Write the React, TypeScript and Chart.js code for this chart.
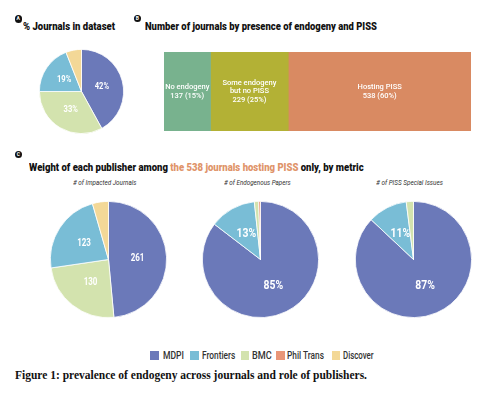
import React, { useEffect, useLayoutEffect, useRef, useState } from "react";
import { Chart, registerables } from "chart.js";

Chart.register(...registerables);

// ---------- data ----------
const PUBLISHERS = ["MDPI", "Frontiers", "BMC", "Phil Trans", "Discover"];
const PUBLISHER_COLORS = ["#6b79b9", "#79bdd6", "#d3e3ae", "#e99678", "#f3d897"];

// Panel A: % journals in dataset (ordered as drawn)
const A_LABELS = ["MDPI", "BMC", "Frontiers", "Discover"];
const A_VALUES = [42, 33, 19, 6];

// Panel B: number of journals by presence of endogeny and PISS
const B_CATEGORIES = [["No endogeny"], ["Some endogeny", "but no PISS"], ["Hosting PISS"]];
const B_VALUES = [137, 229, 538];
const B_COLORS = ["#78b28e", "#b3b135", "#d98a62"];

// Panel C: metrics among 538 journals hosting PISS
const C1_LABELS = ["MDPI", "BMC", "Frontiers", "Discover"];
const C1_VALUES = [261, 130, 123, 24];
const C2_LABELS = ["MDPI", "Frontiers", "BMC", "Phil Trans"];
const C2_VALUES = [85.4, 12.9, 1.2, 0.5];
const C3_LABELS = ["MDPI", "Frontiers", "BMC"];
const C3_VALUES = [87, 11, 2];

const colorOf = (name: string) => PUBLISHER_COLORS[PUBLISHERS.indexOf(name)];

// ---------- text helper ----------
function T(props: {
  x: number; y: number; w: number; size: number; weight?: number; italic?: boolean;
  color?: string; family?: string; children: React.ReactNode;
}) {
  const { x, y, w, size, weight = 400, italic = false, color = "#222", family = "Roboto, sans-serif", children } = props;
  const ref = useRef<HTMLSpanElement>(null);
  const [sx, setSx] = useState(1);
  useLayoutEffect(() => {
    const measure = () => {
      if (ref.current) {
        const nw = ref.current.getBoundingClientRect().width / (ref.current.dataset.sx ? parseFloat(ref.current.dataset.sx) : 1);
        if (nw > 0) {
          const s = w / nw;
          ref.current.dataset.sx = String(s);
          setSx(s);
        }
      }
    };
    measure();
    (document as any).fonts?.ready?.then(measure);
  }, [w]);
  return (
    <span
      ref={ref}
      style={{
        position: "absolute", left: x, top: y - 0.84 * size, fontSize: size, lineHeight: `${size}px`,
        fontFamily: family, fontWeight: weight, fontStyle: italic ? "italic" : "normal", color,
        whiteSpace: "nowrap", transform: `scaleX(${sx})`, transformOrigin: "left top",
      }}
    >
      {children}
    </span>
  );
}

function Badge({ cx, cy, letter }: { cx: number; cy: number; letter: string }) {
  return (
    <div style={{
      position: "absolute", left: cx - 3.8, top: cy - 3.8, width: 7.6, height: 7.6, borderRadius: "50%",
      background: "#111", color: "#fff", fontFamily: "Roboto, sans-serif", fontWeight: 700, fontSize: 5,
      lineHeight: "7.6px", textAlign: "center",
    }}>{letter}</div>
  );
}

// ---------- pie ----------
function Pie({ left, top, size, labels, values, fontSize, fmt }: {
  left: number; top: number; size: number; labels: string[]; values: number[]; fontSize: number;
  fmt: (v: number) => string;
}) {
  const ref = useRef<HTMLCanvasElement>(null);
  useEffect(() => {
    if (!ref.current) return;
    const total = values.reduce((a, b) => a + b, 0);
    const plugin = {
      id: "pieLabels",
      afterDatasetsDraw(chart: any) {
        const ctx = chart.ctx;
        const meta = chart.getDatasetMeta(0);
        meta.data.forEach((arc: any, i: number) => {
          if (values[i] / total < 0.1) return;
          const p = arc.tooltipPosition(false);
          ctx.save();
          ctx.translate(p.x, p.y);
          ctx.scale(0.8, 1);
          ctx.font = `bold ${fontSize}px Roboto, sans-serif`;
          ctx.fillStyle = "#ffffff";
          ctx.textAlign = "center";
          ctx.textBaseline = "middle";
          ctx.fillText(fmt(values[i]), 0, 0);
          ctx.restore();
        });
      },
    };
    const chart = new Chart(ref.current, {
      type: "pie",
      data: {
        labels,
        datasets: [{
          data: values,
          backgroundColor: labels.map(colorOf),
          borderColor: "#ffffff",
          borderWidth: 0.8,
        }],
      },
      options: {
        animation: false,
        responsive: false,
        events: [],
        layout: { padding: 0 },
        plugins: { legend: { display: false }, tooltip: { enabled: false }, title: { display: false } },
      },
      plugins: [plugin],
    });
    return () => chart.destroy();
  }, []);
  return (
    <canvas ref={ref} width={size} height={size}
      style={{ position: "absolute", left, top, width: size, height: size }} />
  );
}

// ---------- stacked bar ----------
function Bar({ left, top, width, height }: { left: number; top: number; width: number; height: number }) {
  const ref = useRef<HTMLCanvasElement>(null);
  useEffect(() => {
    if (!ref.current) return;
    const total = B_VALUES.reduce((a, b) => a + b, 0);
    const plugin = {
      id: "barLabels",
      afterDatasetsDraw(chart: any) {
        const ctx = chart.ctx;
        B_VALUES.forEach((v, i) => {
          const bar: any = chart.getDatasetMeta(i).data[0];
          const cx = (bar.x + bar.base) / 2;
          const cy = bar.y;
          const lines = [...B_CATEGORIES[i], `${v} (${Math.round((v / total) * 100)}%)`];
          const lh = 8.3;
          ctx.save();
          ctx.font = `500 7.5px Roboto, sans-serif`;
          ctx.fillStyle = "#ffffff";
          ctx.textAlign = "center";
          ctx.textBaseline = "middle";
          lines.forEach((t, k) => {
            ctx.fillText(t, cx, cy + (k - (lines.length - 1) / 2) * lh);
          });
          ctx.restore();
        });
      },
    };
    const chart = new Chart(ref.current, {
      type: "bar",
      data: {
        labels: [""],
        datasets: B_VALUES.map((v, i) => ({
          label: B_CATEGORIES[i].join(" "),
          data: [v],
          backgroundColor: B_COLORS[i],
          borderWidth: 0,
          barPercentage: 1,
          categoryPercentage: 1,
        })),
      },
      options: {
        indexAxis: "y",
        animation: false,
        responsive: false,
        events: [],
        layout: { padding: 0 },
        scales: {
          x: { stacked: true, display: false, min: 0, max: total },
          y: { stacked: true, display: false },
        },
        plugins: { legend: { display: false }, tooltip: { enabled: false } },
      },
      plugins: [plugin],
    });
    return () => chart.destroy();
  }, []);
  return (
    <canvas ref={ref} width={width} height={height}
      style={{ position: "absolute", left, top, width, height }} />
  );
}

// ---------- layout constants ----------
const LEGEND_SQ_X = [150, 190, 240.7, 276, 331.7];
const LEGEND_TXT_X = [163.3, 201.7, 252.3, 287.3, 342.7];
const LEGEND_TXT_W = [21, 33.3, 19.7, 37, 30.6];

export default function App() {
  return (
    <div style={{ position: "absolute", left: 0, top: 0, width: 500, height: 400, background: "#fff", overflow: "hidden" }}>
      {/* Panel A */}
      <Badge cx={18.3} cy={19} letter="A" />
      <T x={22.7} y={31} w={92} size={11.5} weight={900} color="#111">% Journals in dataset</T>
      <Pie left={39} top={49} size={85} labels={A_LABELS} values={A_VALUES} fontSize={9.5} fmt={(v) => `${v}%`} />

      {/* Panel B */}
      <Badge cx={137.4} cy={18.5} letter="B" />
      <T x={145} y={31} w={232} size={11.5} weight={900} color="#111">Number of journals by presence of endogeny and PISS</T>
      <Bar left={164} top={52} width={307} height={79} />

      {/* Panel C */}
      <Badge cx={18.3} cy={154.3} letter="C" />
      <T x={29.3} y={171.7} w={334.7} size={11.5} weight={900} color="#111">
        Weight of each publisher among <span style={{ color: "#e0946a" }}>the 538 journals hosting PISS</span> only, by metric
      </T>
      <T x={73.3} y={185} w={63.4} size={7.5} italic color="#333">
        # of Impacted Journals
      </T>
      <T x={224.3} y={185} w={66.7} size={7.5} italic color="#333">
        # of Endogenous Papers
      </T>
      <T x={376} y={185} w={67} size={7.5} italic color="#333">
        # of PISS Special Issues
      </T>
      <Pie left={50} top={201} size={117} labels={C1_LABELS} values={C1_VALUES} fontSize={10} fmt={(v) => `${v}`} />
      <Pie left={202} top={201} size={117} labels={C2_LABELS} values={C2_VALUES} fontSize={13} fmt={(v) => `${Math.round(v)}%`} />
      <Pie left={355} top={201} size={117} labels={C3_LABELS} values={C3_VALUES} fontSize={13} fmt={(v) => `${Math.round(v)}%`} />

      {/* Legend */}
      {PUBLISHERS.map((p, i) => (
        <React.Fragment key={p}>
          <div style={{ position: "absolute", left: LEGEND_SQ_X[i], top: 351, width: 8.5, height: 9, background: PUBLISHER_COLORS[i] }} />
          <T x={LEGEND_TXT_X[i]} y={359} w={LEGEND_TXT_W[i]} size={10} weight={500} color="#333">{p}</T>
        </React.Fragment>
      ))}

      {/* Caption */}
      <T x={15} y={380} w={352} size={11.5} weight={700} color="#111" family="'Liberation Serif', 'Times New Roman', serif">
        Figure 1: prevalence of endogeny across journals and role of publishers.
      </T>
    </div>
  );
}
